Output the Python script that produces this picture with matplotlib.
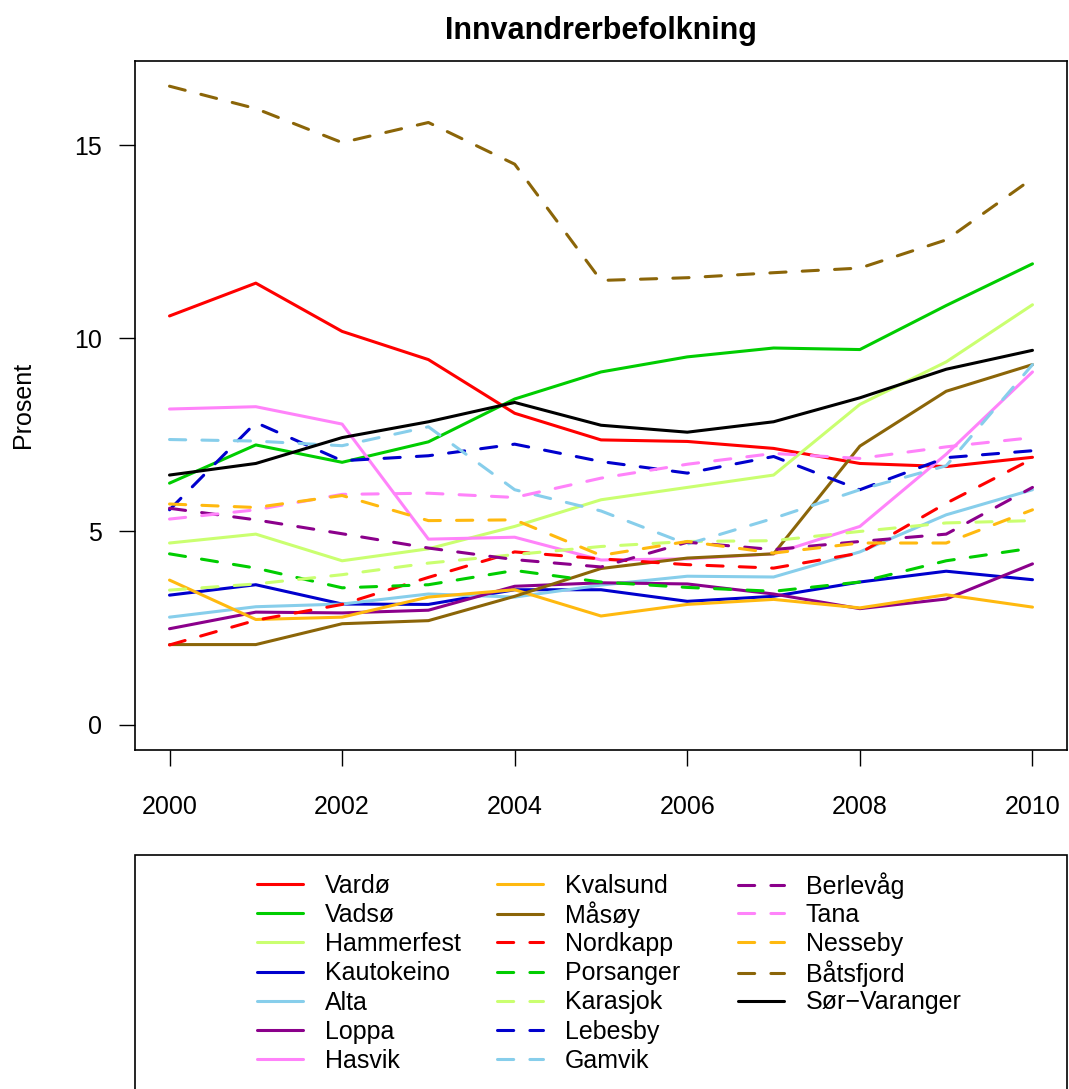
import matplotlib
matplotlib.use("Agg")
import matplotlib.pyplot as plt
from matplotlib.patches import Rectangle

plt.rcParams['font.family'] = ['Liberation Sans', 'DejaVu Sans']

years = list(range(2000, 2011))

# innvandrerbefolkning i prosent
vardo = [10.58, 11.43, 10.18, 9.45, 8.06, 7.37, 7.33, 7.15, 6.76, 6.68, 6.92]
vadso = [6.25, 7.24, 6.79, 7.32, 8.43, 9.13, 9.52, 9.75, 9.71, 10.85, 11.93]
hammerfest = [4.70, 4.93, 4.24, 4.55, 5.13, 5.82, 6.14, 6.46, 8.29, 9.39, 10.87]
kautokeino = [3.35, 3.62, 3.12, 3.11, 3.49, 3.49, 3.19, 3.32, 3.69, 3.97, 3.75]
alta = [2.78, 3.05, 3.12, 3.38, 3.30, 3.61, 3.84, 3.82, 4.47, 5.43, 6.08]
loppa = [2.48, 2.91, 2.89, 2.96, 3.58, 3.67, 3.64, 3.38, 3.00, 3.25, 4.16]
hasvik = [8.17, 8.23, 7.78, 4.80, 4.85, 4.26, 4.29, 4.42, 5.13, 7.00, 9.13]
kvalsund = [3.74, 2.72, 2.78, 3.30, 3.49, 2.81, 3.11, 3.24, 3.02, 3.36, 3.04]
masoy = [2.07, 2.07, 2.61, 2.69, 3.32, 4.04, 4.31, 4.42, 7.21, 8.63, 9.32]
nordkapp = [2.06, 2.70, 3.11, 3.81, 4.47, 4.29, 4.14, 4.05, 4.44, 5.73, 6.88]
porsanger = [4.42, 4.05, 3.54, 3.62, 3.99, 3.69, 3.55, 3.45, 3.69, 4.24, 4.57]
karasjok = [3.48, 3.64, 3.88, 4.18, 4.40, 4.61, 4.74, 4.76, 5.00, 5.22, 5.28]
lebesby = [5.56, 7.82, 6.83, 6.96, 7.26, 6.81, 6.51, 6.94, 6.08, 6.91, 7.09]
gamvik = [7.38, 7.34, 7.22, 7.71, 6.08, 5.53, 4.67, 5.34, 6.08, 6.70, 9.32]
berlevag = [5.60, 5.30, 4.94, 4.57, 4.27, 4.08, 4.72, 4.53, 4.74, 4.93, 6.14]
tana = [5.32, 5.56, 5.96, 5.99, 5.88, 6.38, 6.74, 7.02, 6.89, 7.19, 7.43]
nesseby = [5.71, 5.62, 5.93, 5.28, 5.30, 4.38, 4.74, 4.44, 4.70, 4.70, 5.56]
batsfjord = [16.53, 15.95, 15.07, 15.59, 14.51, 11.50, 11.57, 11.70, 11.82, 12.55, 14.14]
sorvaranger = [6.46, 6.76, 7.43, 7.84, 8.34, 7.75, 7.57, 7.84, 8.46, 9.20, 9.69]

names = ['Vardø', 'Vadsø', 'Hammerfest', 'Kautokeino', 'Alta', 'Loppa', 'Hasvik',
         'Kvalsund', 'Måsøy', 'Nordkapp', 'Porsanger', 'Karasjok', 'Lebesby', 'Gamvik',
         'Berlevåg', 'Tana', 'Nesseby', 'Båtsfjord', 'Sør−Varanger']
series = [vardo, vadso, hammerfest, kautokeino, alta, loppa, hasvik,
          kvalsund, masoy, nordkapp, porsanger, karasjok, lebesby, gamvik,
          berlevag, tana, nesseby, batsfjord, sorvaranger]
farger = ['#FF0000', '#00CD00', '#CAFF70', '#0000CD', '#87CEEB', '#8B008B', '#FF83FA',
          '#FFB90F', '#8B6508']
colors = farger + farger + ['#000000']
styles = ['-'] * 9 + ['--'] * 9 + ['-']

fig = plt.figure(figsize=(10.69, 10.89), dpi=100)
ax = fig.add_axes([135 / 1069, 1 - 750 / 1089, 932 / 1069, 689.3 / 1089])

lines = []
for navn, y, c, ls in zip(names, series, colors, styles):
    if ls == '--':
        ln, = ax.plot(years, y, color=c, lw=2.2, dashes=(5.3, 5.3),
                      dash_capstyle='round', label=navn)
    else:
        ln, = ax.plot(years, y, color=c, lw=2.2, solid_capstyle='round', label=navn)
    lines.append(ln)

ax.set_xlim(1999.6, 2010.4)
ax.set_ylim(-0.66, 17.19)
ax.set_xticks([2000, 2002, 2004, 2006, 2008, 2010])
ax.set_yticks([0, 5, 10, 15])
ax.tick_params(axis='both', labelsize=18, length=11.5, width=1.0, direction='out')
ax.tick_params(axis='x', pad=21)
ax.tick_params(axis='y', pad=12)
for s in ax.spines.values():
    s.set_linewidth(1.2)

fig.text(601 / 1069, 1 - 39 / 1089, 'Innvandrerbefolkning', ha='center',
         va='baseline', fontsize=22, fontweight='bold')
fig.text(23 / 1069, 1 - 405 / 1089, 'Prosent', rotation=90, ha='center',
         va='center', fontsize=18)

# legendeboks
fig.patches.append(Rectangle((135 / 1069, -0.1), 932 / 1069, 0.1 + 1 - 855 / 1089,
                             transform=fig.transFigure, fill=False, lw=1.2,
                             edgecolor='black'))

# en legende per oppføring, tre kolonner a sju rader
kol_x = [257, 497, 738]
for i, ln in enumerate(lines):
    kol, rad = divmod(i, 7)
    yc = 885.7 + rad * 29.2
    fig.legend(handles=[ln], loc='center left',
               bbox_to_anchor=(kol_x[kol] / 1069, 1 - yc / 1089),
               frameon=False, fontsize=18, borderpad=0, borderaxespad=0,
               handlelength=1.84, handletextpad=0.88)

fig.savefig('out.png', dpi=100)
